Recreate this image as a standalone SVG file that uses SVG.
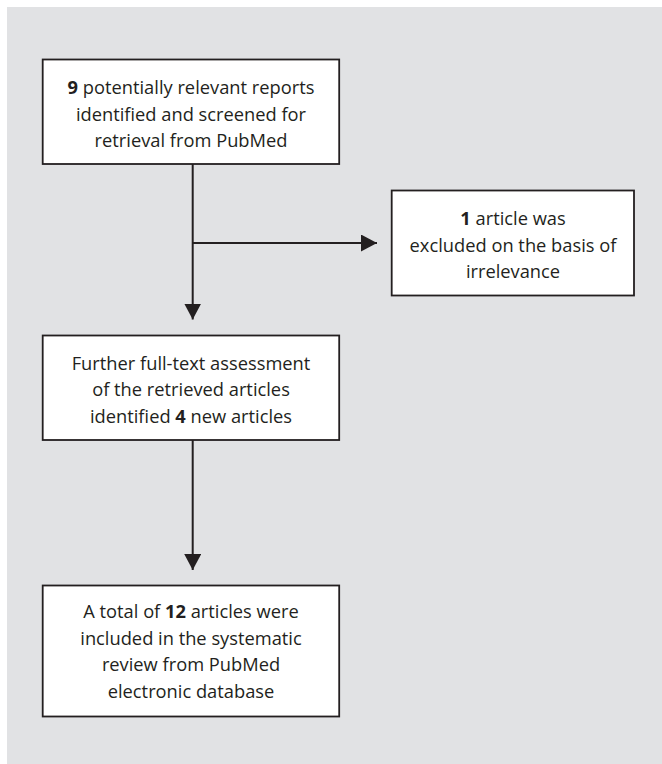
<svg xmlns="http://www.w3.org/2000/svg" width="662" height="764" viewBox="0 0 662 764">
<style>
.box{fill:#fff;stroke:#231f20;stroke-width:1.8}
.t{font-family:"Open Sans","Noto Sans","Liberation Sans",sans-serif;font-size:18.3px;fill:#231f20;text-anchor:middle}
.b{font-weight:bold}
.ln{stroke:#231f20;stroke-width:2;fill:none}
</style>
<defs>
<marker id="ah" markerUnits="userSpaceOnUse" markerWidth="17" markerHeight="17" refX="16" refY="8.5" orient="auto">
<path d="M0,0 L16,8.5 L0,17 Z" fill="#231f20"/>
</marker>
</defs>
<rect x="7" y="7" width="655" height="757" fill="#e1e2e4"/>
<g id="connectors">
<path class="ln" d="M192.7,164 V319.5" marker-end="url(#ah)"/>
<path class="ln" d="M192.7,243 H377" marker-end="url(#ah)"/>
<path class="ln" d="M192.7,440 V570" marker-end="url(#ah)"/>
</g>
<g id="n1">
<rect class="box" x="42.7" y="59.5" width="296.5" height="104.5"/>
<text class="t" x="191" y="94"><tspan class="b">9</tspan> potentially relevant reports</text>
<text class="t" x="191" y="120.5">identified and screened for</text>
<text class="t" x="191" y="147">retrieval from PubMed</text>
</g>
<g id="n2">
<rect class="box" x="391.7" y="190.5" width="242.3" height="105"/>
<text class="t" x="513" y="225"><tspan class="b">1</tspan> article was</text>
<text class="t" x="513" y="251.5">excluded on the basis of</text>
<text class="t" x="513" y="278">irrelevance</text>
</g>
<g id="n3">
<rect class="box" x="42.7" y="335.5" width="296.5" height="104.5"/>
<text class="t" x="191" y="369.5">Further full-text assessment</text>
<text class="t" x="191" y="396">of the retrieved articles</text>
<text class="t" x="191" y="422.5">identified <tspan class="b">4</tspan> new articles</text>
</g>
<g id="n4">
<rect class="box" x="42.7" y="585.5" width="296.5" height="131"/>
<text class="t" x="191" y="618">A total of <tspan class="b">12</tspan> articles were</text>
<text class="t" x="191" y="644.5">included in the systematic</text>
<text class="t" x="191" y="671">review from PubMed</text>
<text class="t" x="191" y="697.5">electronic database</text>
</g>
</svg>
